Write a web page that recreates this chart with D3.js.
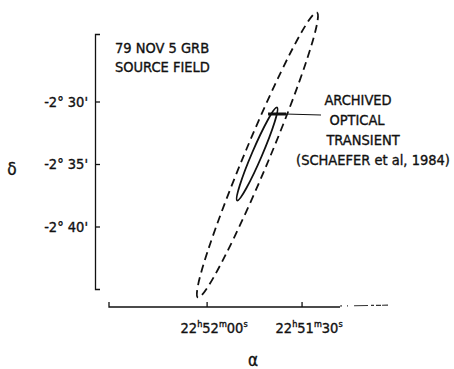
<!DOCTYPE html>
<html>
<head>
<meta charset="utf-8">
<script src="https://cdn.jsdelivr.net/npm/d3@7"></script>
<style>
  body { margin: 0; background: #fff; }
  svg text { font-family: "Liberation Sans Narrow", "DejaVu Sans Condensed", sans-serif; fill: #111; stroke: #111; stroke-width: 0.35px; }
</style>
</head>
<body>
<div id="chart"></div>
<script>
// right ascension in seconds of time after 22h51m00s, declination in arcmin after -2deg
var raTicks = [60, 30];
var raLabels = ['22h52m00s', '22h51m30s'];
var decTicks = [-30, -35, -40];
var decLabels = ["-2° 30'", "-2° 35'", "-2° 40'"];

// error ellipses: centre, tip of the major axis, minor/major ratio
var ellipseNames = ['outer', 'inner'];
var ellipseCenterRA = [44.1, 44.2];
var ellipseCenterDec = [-34.28, -34.2];
var ellipseTipRA = [25.3, 37.9];
var ellipseTipDec = [-22.88, -30.48];
var ellipseRatio = [0.08, 0.1];

// archived optical transient (Schaefer et al 1984)
var transientRA = [37.9];
var transientDec = [-31.0];

var titleLines = ['79 NOV 5 GRB', 'SOURCE FIELD'];
var noteLines = ['ARCHIVED', 'OPTICAL', 'TRANSIENT', '(SCHAEFER et al, 1984)'];

var width = 454, height = 369;

var svg = d3.select('#chart').append('svg')
  .attr('width', width).attr('height', height);

var x = d3.scaleLinear().domain([91, 0]).range([109, 397]);
var y = d3.scaleLinear().domain([-45, -24.6]).range([289, 34]);

var xAxisY = 307, yAxisX = 95;

// y axis, ticks pointing inward
var yAxis = d3.axisLeft(y)
  .tickValues(decTicks)
  .tickSizeInner(-5)
  .tickSizeOuter(-5)
  .tickPadding(7)
  .tickFormat(function(d, i) { return decLabels[i]; });

var gy = svg.append('g')
  .attr('transform', 'translate(' + yAxisX + ',0)')
  .call(yAxis);
gy.selectAll('path, line').attr('stroke', '#111').attr('stroke-width', 1.3);
gy.selectAll('text')
  .attr('font-size', 14.5)
  .attr('font-family', null)
  .attr('fill', '#111');

// x axis: solid part, then the faded broken end
var gx = svg.append('g');
gx.append('path')
  .attr('d', 'M' + x(91) + ',' + (xAxisY - 5) + 'V' + xAxisY + 'H' + x(18))
  .attr('fill', 'none').attr('stroke', '#111').attr('stroke-width', 1.3);
gx.append('line')
  .attr('x1', x(18)).attr('x2', x(0))
  .attr('y1', xAxisY - 1).attr('y2', xAxisY - 2)
  .attr('stroke', '#333').attr('stroke-width', 1.2)
  .attr('stroke-dasharray', '2,5,1,6,14,3,3');

gx.selectAll('line.tick')
  .data(raTicks).enter()
  .append('line').attr('class', 'tick')
  .attr('x1', function(d) { return x(d); })
  .attr('x2', function(d) { return x(d); })
  .attr('y1', xAxisY).attr('y2', xAxisY - 5)
  .attr('stroke', '#111').attr('stroke-width', 1.3);

var raText = gx.selectAll('text.ra')
  .data(raTicks).enter()
  .append('text').attr('class', 'ra')
  .attr('x', function(d) { return x(d) + 7; })
  .attr('y', xAxisY + 26)
  .attr('text-anchor', 'middle')
  .attr('font-size', 14.5);

// split 22h52m00s into numbers and superscript unit letters
raText.each(function(d, i) {
  var t = d3.select(this);
  var prevUnit = false;
  raLabels[i].match(/\d+|[hms]/g).forEach(function(part) {
    var unit = /[hms]/.test(part);
    t.append('tspan')
      .attr('font-size', unit ? 9 : 14.5)
      .attr('dy', unit ? -6 : (prevUnit ? 6 : 0))
      .text(part);
    prevUnit = unit;
  });
});

// axis symbols
svg.append('text')
  .attr('x', 12).attr('y', 175)
  .attr('text-anchor', 'middle')
  .attr('font-size', 17)
  .text('δ');
svg.append('text')
  .attr('x', 253).attr('y', 366)
  .attr('text-anchor', 'middle')
  .attr('font-size', 17)
  .text('α');

// error ellipses
var ellipses = ellipseNames.map(function(n, i) {
  var cx = x(ellipseCenterRA[i]), cy = y(ellipseCenterDec[i]);
  var tx = x(ellipseTipRA[i]), ty = y(ellipseTipDec[i]);
  var a = Math.sqrt((tx - cx) * (tx - cx) + (ty - cy) * (ty - cy));
  return { name: n, cx: cx, cy: cy, rx: a, ry: a * ellipseRatio[i],
           angle: Math.atan2(ty - cy, tx - cx) * 180 / Math.PI };
});

svg.selectAll('ellipse.err')
  .data(ellipses).enter()
  .append('ellipse').attr('class', 'err')
  .attr('cx', function(d) { return d.cx; })
  .attr('cy', function(d) { return d.cy; })
  .attr('rx', function(d) { return d.rx; })
  .attr('ry', function(d) { return d.ry; })
  .attr('transform', function(d) { return 'rotate(' + d.angle + ',' + d.cx + ',' + d.cy + ')'; })
  .attr('fill', 'none')
  .attr('stroke', '#111')
  .attr('stroke-width', 1.8)
  .attr('stroke-dasharray', function(d) { return d.name === 'outer' ? '8,5' : null; });

// transient mark and leader line
var tx0 = x(transientRA[0]), ty0 = y(transientDec[0]);
svg.append('line')
  .attr('x1', tx0 - 9).attr('x2', tx0 + 9)
  .attr('y1', ty0).attr('y2', ty0)
  .attr('stroke', '#111').attr('stroke-width', 3);
svg.append('line')
  .attr('x1', tx0 + 8).attr('x2', 321)
  .attr('y1', ty0).attr('y2', ty0 + 1)
  .attr('stroke', '#111').attr('stroke-width', 1.2);

// labels
svg.append('text')
  .attr('x', 115).attr('y', 53)
  .attr('font-size', 14.5)
  .selectAll('tspan').data(titleLines).enter()
  .append('tspan')
  .attr('x', 115)
  .attr('dy', function(d, i) { return i ? 19 : 0; })
  .text(function(d) { return d; });

var noteX = [358, 357, 363, 373];
svg.selectAll('text.note')
  .data(noteLines).enter()
  .append('text').attr('class', 'note')
  .attr('x', function(d, i) { return noteX[i]; })
  .attr('y', function(d, i) { return 105 + i * 20; })
  .attr('text-anchor', 'middle')
  .attr('font-size', 14.5)
  .text(function(d) { return d; });
</script>
</body>
</html>
